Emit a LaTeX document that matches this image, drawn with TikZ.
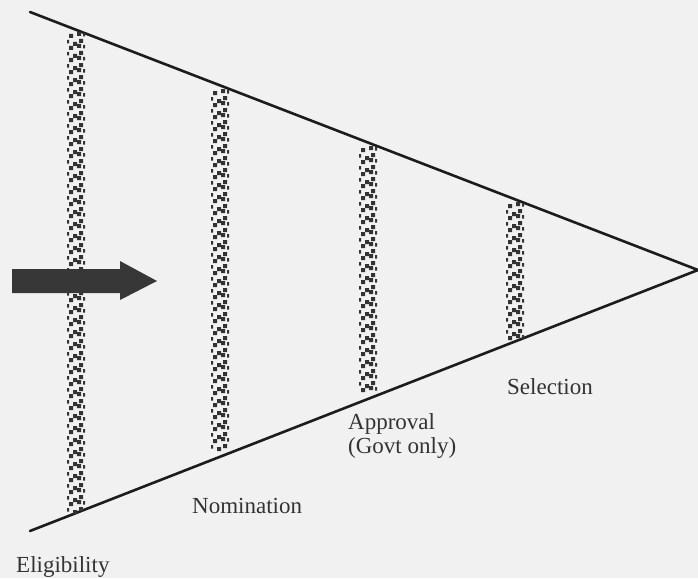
\documentclass[tikz,border=0pt]{standalone}
\usepackage{fontspec}
\setmainfont{Liberation Serif}
\usepackage{tikz}
\usetikzlibrary{calc}
\definecolor{paper}{HTML}{F1F1F1}
\definecolor{ink}{HTML}{1C1C1C}
\definecolor{txt}{HTML}{333333}
\tikzset{edge/.style={ink,line width=2.6pt,line cap=round},
  stage/.style={txt,font=\fontsize{23}{24}\selectfont,anchor=base west,inner sep=0pt,align=left}}
\newcommand{\dotbar}[3]{% <x> <top> <bottom>
  \pgfmathtruncatemacro{\nrows}{(#3-#2)/6}
  \foreach \k in {0,...,\nrows}{
    \pgfmathsetmacro{\yy}{#2+\k*6}
    \pgfmathtruncatemacro{\kk}{mod(\k,2)}
    \ifnum\kk=0 \fill[ink!90] (#1-7,\yy) rectangle ++(4,4) (#1+1,\yy-2) rectangle ++(4,4) (#1+7,\yy-1) rectangle ++(2,3.5);\fi
    \ifnum\kk=1 \fill[ink!90] (#1-9,\yy) rectangle ++(2,3.5) (#1-3,\yy+2) rectangle ++(4,4) (#1+3,\yy-1) rectangle ++(4,4);\fi
  }}

\begin{document}
\begin{tikzpicture}[x=1pt,y=-1pt]
  \fill[paper] (0,0) rectangle (698,578);
  \useasboundingbox (0,0) rectangle (698,578);
  % funnel
  \coordinate (top) at (30,12);
  \coordinate (bot) at (30,531);
  \coordinate (tip) at (698,270);
  \draw[edge] (top) -- (tip) -- (bot);
  % gates
  \dotbar{76}{34}{508}
  \dotbar{220}{91}{450}
  \dotbar{368}{148}{392}
  \dotbar{515}{204}{336}
  % flow arrow
  \fill[ink!88] (12,269) -- (120,269) -- (120,261) -- (157,281) -- (120,300) -- (120,293) -- (12,293) -- cycle;
  % labels
  \node[stage] (elig) at (16,572) {Eligibility};
  \node[stage] (nomi) at (192,513) {Nomination};
  \node[stage] (appr) at (348,453) {Approval\\(Govt only)};
  \node[stage] (sele) at (507,394) {Selection};
\end{tikzpicture}
\end{document}
